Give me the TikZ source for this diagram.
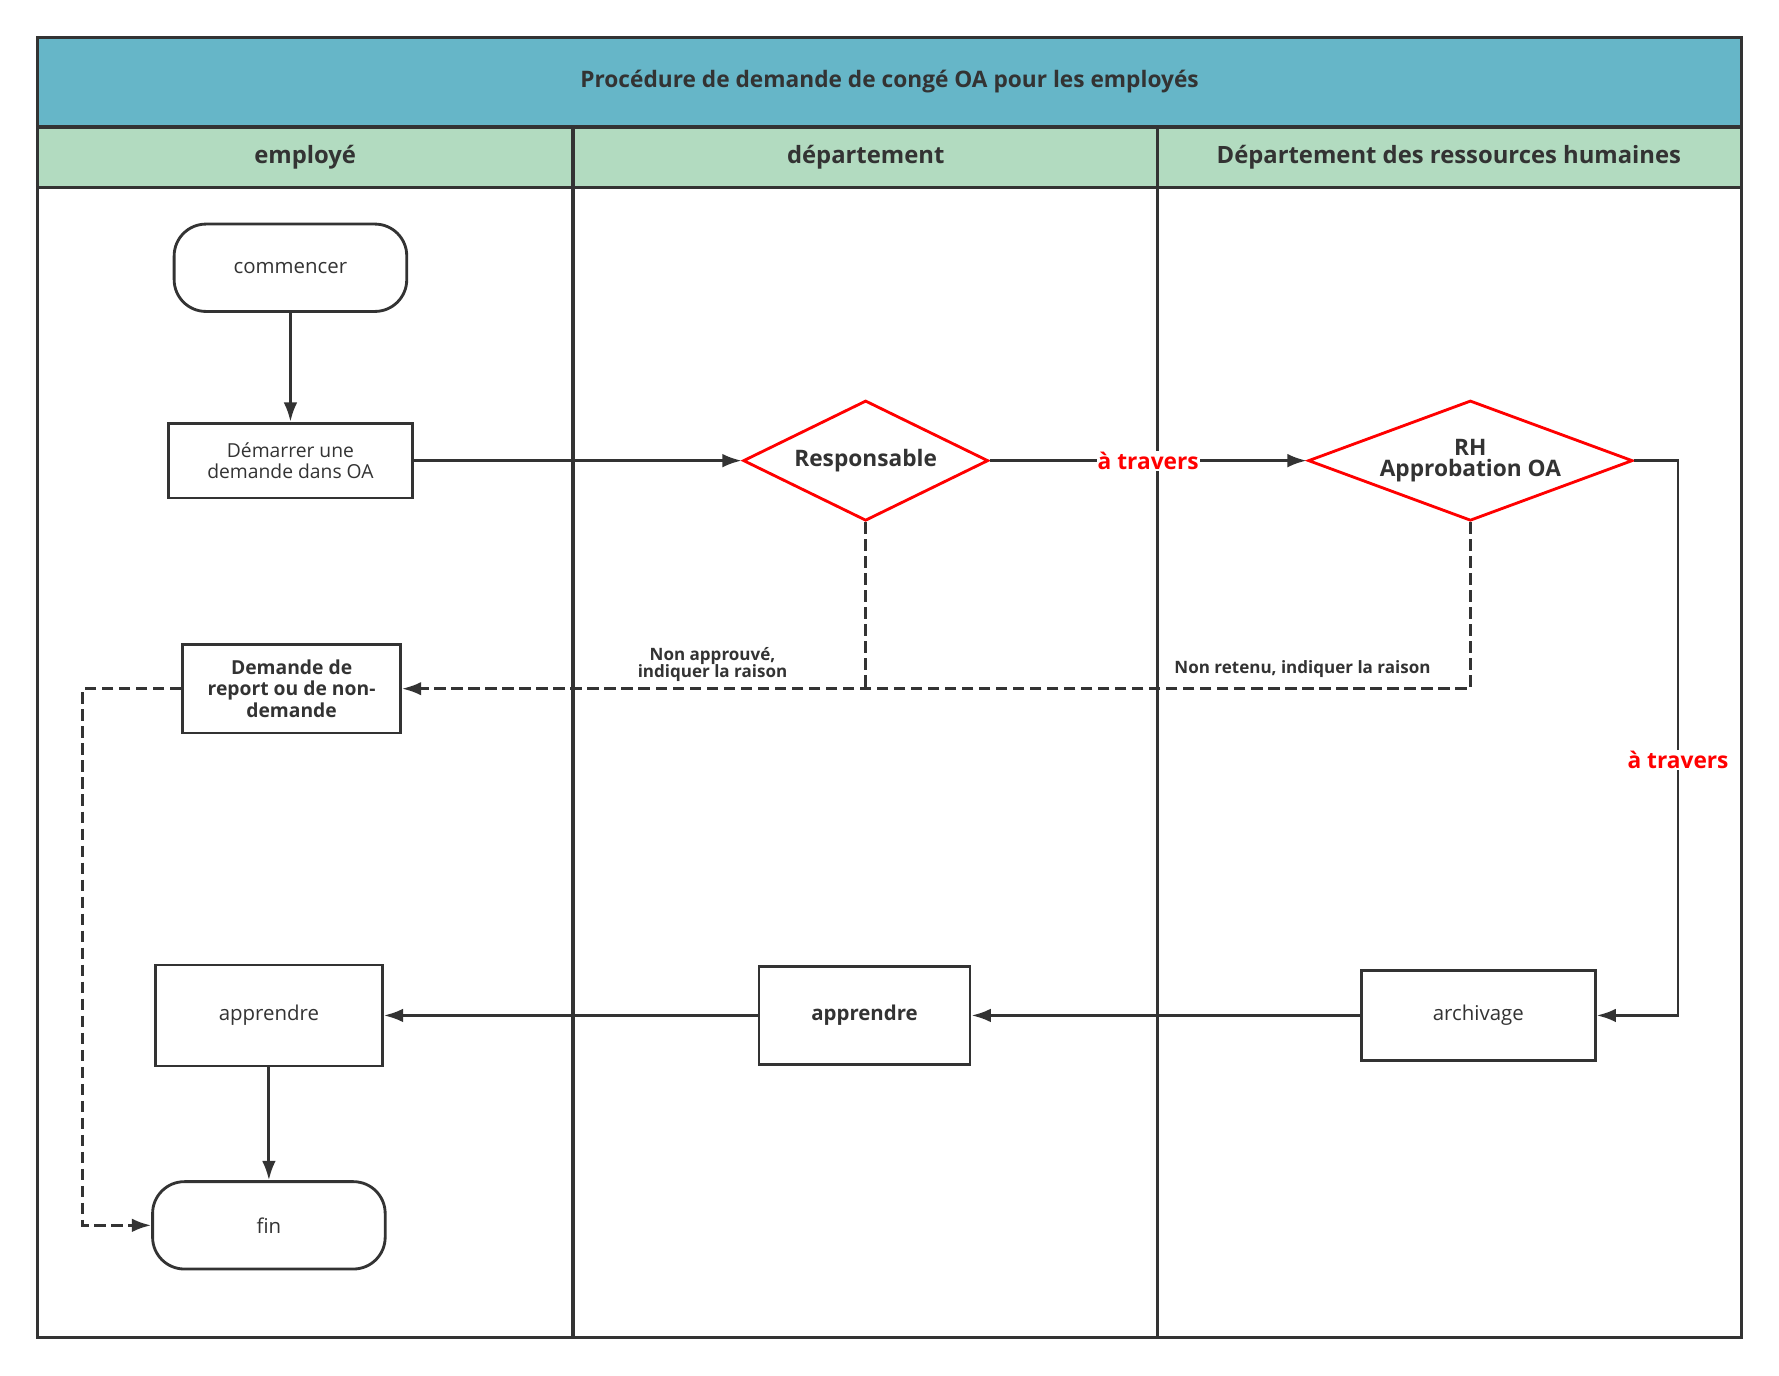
\documentclass[tikz,border=0pt]{standalone}
\usepackage{fontspec}
\setmainfont{Open Sans}
\usetikzlibrary{shapes.geometric,arrows.meta}
\definecolor{ink}{HTML}{333333}
\definecolor{titlec}{HTML}{66B6C8}
\definecolor{headc}{HTML}{B2DBC0}
\begin{document}
\begin{tikzpicture}[x=1pt,y=-1pt,
  box/.style={draw=ink,line width=2.5pt,minimum width=#1,align=center,font=\fontsize{18}{21}\selectfont,text=ink},
  term/.style={draw=ink,line width=2.5pt,rounded corners=28pt,minimum width=205pt,minimum height=77pt,font=\fontsize{18}{21}\selectfont,text=ink},
  dia/.style={diamond,aspect=2.04,draw=red,line width=2.5pt,minimum width=216pt,minimum height=106pt,inner sep=0pt,align=center,font=\bfseries\fontsize{20}{23}\selectfont,text=ink},
  conn/.style={draw=ink,line width=2.5pt,-{Latex[length=17pt,width=12pt]}},
  dconn/.style={conn,dash pattern=on 10pt off 5pt},
  red lab/.style={text=red,font=\bfseries\fontsize{20}{23}\selectfont,fill=white,inner sep=1pt},
  lab/.style={text=ink,font=\bfseries\fontsize{15}{18}\selectfont,align=center},
  lane/.style={draw=ink,line width=2.8pt}]
\useasboundingbox (0,0) rectangle (1568,1212);
\fill[white] (0,0) rectangle (1568,1212);
\fill[titlec] (33,33) rectangle (1535,112);
\fill[headc] (33,112) rectangle (1535,165);
\draw[lane] (33,33) rectangle (1535,1179);
\draw[lane] (33,112) -- (1535,112);
\draw[lane] (33,165) -- (1535,165);
\draw[lane] (505,112) -- (505,1179);
\draw[lane] (1020,112) -- (1020,1179);
\node[text=ink,font=\bfseries\fontsize{20}{23}\selectfont] (title) at (784,72) {Procédure de demande de congé OA pour les employés};
\node[text=ink,font=\bfseries\fontsize{21}{24}\selectfont] (h1) at (269,139) {employé};
\node[text=ink,font=\bfseries\fontsize{21}{24}\selectfont] (h2) at (763,139) {département};
\node[text=ink,font=\bfseries\fontsize{21}{24}\selectfont] (h3) at (1277,139) {Département des ressources humaines};
\node[term] (start) at (256,236) {commencer};
\node[box=215pt,minimum height=66pt,font=\fontsize{17}{19}\selectfont] (dem) at (256,406) {Démarrer une\\demande dans OA};
\node[dia] (resp) at (763,406) {Responsable};
\node[dia,minimum width=286pt,aspect=2.7] (rh) at (1296,406) {RH\\[-4pt]Approbation OA};
\node[box=192pt,minimum height=78pt,font=\bfseries\fontsize{17}{19}\selectfont] (rep) at (257,607) {Demande de\\report ou de non-\\demande};
\node[box=200pt,minimum height=89pt] (app1) at (237,895) {apprendre};
\node[box=186pt,minimum height=87pt,font=\bfseries\fontsize{18}{21}\selectfont] (app2) at (762,895) {apprendre};
\node[box=206pt,minimum height=79pt] (arch) at (1303,895) {archivage};
\node[term] (fin) at (237,1080) {fin};
\coordinate (c1) at (1479,406);
\coordinate (c2) at (1479,895);
\coordinate (d1) at (763,607);
\coordinate (d2) at (1296,607);
\coordinate (d3) at (73,607);
\coordinate (d4) at (73,1080);
\draw[conn] (start) -- (dem);
\draw[conn] (dem) -- (resp);
\draw[conn] (resp) -- node[red lab]{à travers} (rh);
\draw[conn] (rh.east) -- (c1) -- node[red lab,pos=0.54]{à travers} (c2) -- (arch);
\draw[conn] (arch) -- (app2);
\draw[conn] (app2) -- (app1);
\draw[conn] (app1) -- (fin);
\draw[draw=ink,line width=2.5pt,dash pattern=on 10pt off 5pt] (resp.south) -- (d1);
\draw[dconn] (rh.south) -- (d2) -- (rep.east);
\draw[dconn] (rep.west) -- (d3) -- (d4) -- (fin.west);
\node[lab] (l1) at (628,586) {Non approuvé,\\[-3pt]indiquer la raison};
\node[lab] (l2) at (1148,590) {Non retenu, indiquer la raison};
\end{tikzpicture}
\end{document}
